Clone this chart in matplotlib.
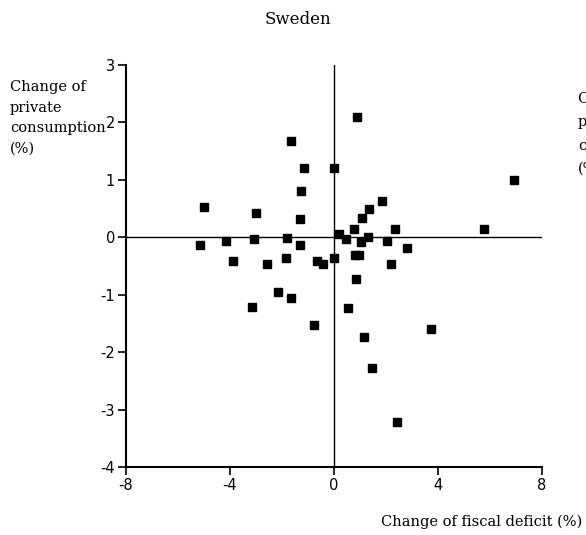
import matplotlib
matplotlib.use('Agg')
import matplotlib.pyplot as plt
import numpy as np

# Veränderung Budgetdefizit (x) vs. privater Konsum (y), Schweden
defizit = [-4.99, -5.15, -4.17, -3.90, -3.01, -3.08, -2.59, -1.67, -1.15, -1.28,
           -1.31, -1.82, -1.31, -1.85, -0.64, -0.42, -3.17, -2.14, -1.67, -0.76,
           0.87, 0.00, 6.92, 1.86, 1.35, 1.06, 0.77, 2.35, 5.77, 0.19,
           0.46, 1.30, 1.03, 2.05, 2.82, 0.00, 0.82, 0.97, 2.18, 0.85,
           0.55, 3.72, 1.15, 1.45, 2.44]
konsum = [0.53, -0.13, -0.06, -0.42, 0.43, -0.03, -0.46, 1.68, 1.20, 0.81,
          0.32, -0.02, -0.14, -0.36, -0.41, -0.46, -1.22, -0.96, -1.06, -1.53,
          2.09, 1.20, 1.00, 0.64, 0.49, 0.33, 0.14, 0.14, 0.15, 0.06,
          -0.03, 0.01, -0.08, -0.07, -0.19, -0.36, -0.31, -0.31, -0.46, -0.73,
          -1.24, -1.59, -1.74, -2.28, -3.22]

xticks = [-8, -4, 0, 4, 8]
yticks = [-4, -3, -2, -1, 0, 1, 2, 3]
ylabel = 'Change of\nprivate\nconsumption\n(%)'

plt.rcParams['font.family'] = ['DejaVu Serif']
plt.rcParams['axes.unicode_minus'] = False

fig = plt.figure(figsize=(5.86, 5.35), dpi=100)
ax = fig.add_axes([126/586, 68/535, 416/586, 402/535])

ax.axhline(0, color='black', lw=1.0, zorder=1)
ax.axvline(0, color='black', lw=1.0, zorder=1)
ax.plot(defizit, konsum, 's', color='black', markersize=5.5, zorder=3)

ax.set_xlim(-8, 8)
ax.set_ylim(-4, 3)
ax.set_xticks(xticks)
ax.set_yticks(yticks)
ax.spines['top'].set_visible(False)
ax.spines['right'].set_visible(False)
ax.spines['left'].set_linewidth(1.5)
ax.spines['bottom'].set_linewidth(1.5)
ax.tick_params(direction='out', length=6, width=1.2, labelsize=10.5, pad=2)
for lab in ax.get_xticklabels() + ax.get_yticklabels():
    lab.set_family('DejaVu Sans')

fig.text(298/586, 1 - 20/535, 'Sweden', ha='center', va='center', fontsize=12)
fig.text(10/586, 1 - 80/535, ylabel, ha='left', va='top', fontsize=10.5,
         linespacing=1.6)
# zweite Beschriftung am rechten Rand, wird vom Bildrand abgeschnitten
fig.text(578/586, 1 - 92/535, ylabel, ha='left', va='top', fontsize=10.5,
         linespacing=1.85)
fig.text(582/586, 1 - 522/535, 'Change of fiscal deficit (%)', ha='right',
         va='center', fontsize=10.5)

fig.savefig('out.png', dpi=100)
